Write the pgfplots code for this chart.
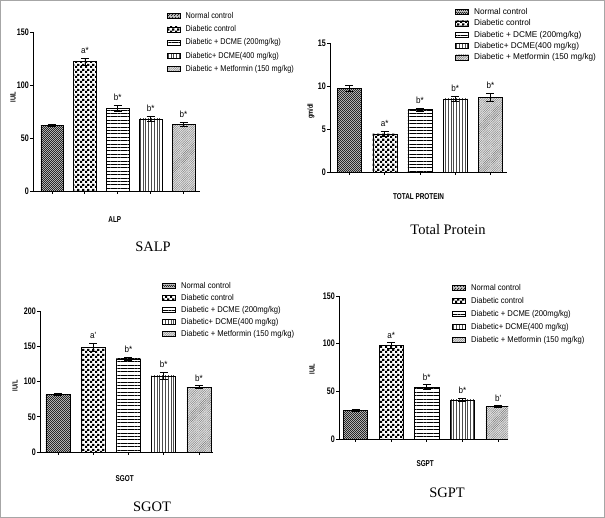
\documentclass[border=0pt]{standalone}
\usepackage{fontspec}
\setmainfont{Liberation Sans}
\newfontfamily\narrow[FakeStretch=0.9]{Liberation Sans}
\newfontfamily\legA[FakeStretch=0.87]{Liberation Sans}
\newfontfamily\legB[FakeStretch=0.98]{Liberation Sans}
\newfontfamily\legC[FakeStretch=0.91]{Liberation Sans}
\newfontfamily\narrowb[FakeStretch=0.75]{Liberation Sans}
\newfontfamily\capfont{Liberation Serif}
\usepackage{pgfplots}
\pgfplotsset{compat=1.18}
\usetikzlibrary{patterns,patterns.meta}

% checker patterns for the two control groups
\pgfdeclarepatternformonly{smallchecks}{\pgfpointorigin}{\pgfqpoint{2.4pt}{2.4pt}}{\pgfqpoint{2.4pt}{2.4pt}}{%
  \pgfpathrectangle{\pgfpointorigin}{\pgfqpoint{1.2pt}{1.2pt}}%
  \pgfpathrectangle{\pgfqpoint{1.2pt}{1.2pt}}{\pgfqpoint{1.2pt}{1.2pt}}%
  \pgfusepath{fill}}
\pgfdeclarepatternformonly{bigchecks}{\pgfpointorigin}{\pgfqpoint{5pt}{5pt}}{\pgfqpoint{5pt}{5pt}}{%
  \pgfpathrectangle{\pgfpointorigin}{\pgfqpoint{2.5pt}{2.5pt}}%
  \pgfpathrectangle{\pgfqpoint{2.5pt}{2.5pt}}{\pgfqpoint{2.5pt}{2.5pt}}%
  \pgfusepath{fill}}

\pgfplotsset{
  g1/.style={ybar, draw=black, fill=gray!45, postaction={pattern=smallchecks, pattern color=black!85}},
  g2/.style={ybar, draw=black, fill=white, postaction={pattern=bigchecks}},
  g3/.style={ybar, draw=black, fill=white, postaction={pattern={Lines[angle=0,distance=3.4pt,line width=0.7pt]}}},
  g4/.style={ybar, draw=black, fill=white, postaction={pattern={Lines[angle=90,distance=2.8pt,line width=0.6pt]}, pattern color=black!70}},
  g5/.style={ybar, draw=black, fill=gray!20, postaction={pattern={Lines[angle=45,distance=1.6pt,line width=0.4pt]}, pattern color=black!55}},
  eb/.style={error bars/.cd, y dir=both, y explicit,
    error bar style={black, line width=0.6pt},
    error mark options={rotate=90, mark size=4pt, black, line width=0.6pt}},
  marks/.style={draw=none, mark=none, forget plot, nodes near coords,
    point meta=explicit symbolic,
    every node near coord/.style={anchor=south, yshift=1pt, font=\narrow\fontsize{9}{10}\selectfont}},
  panel/.style={
    scale only axis, anchor=south west,
    axis lines=left, axis line style={-, line width=0.8pt},
    bar width=0.68,
    xtick={1,2,3,4,5}, xticklabels={},
    tick align=outside, major tick length=3pt, tick style={black, line width=0.7pt},
    ymin=0,
    /pgf/number format/assume math mode=true,
    yticklabel style={font=\narrowb\bfseries\fontsize{9.5}{10}\selectfont, inner sep=1pt},
    ylabel style={font=\narrowb\bfseries\fontsize{7.5}{8}\selectfont, anchor=center},
    xlabel style={font=\narrowb\bfseries\fontsize{8.5}{9}\selectfont, anchor=center},
    legend style={draw=none, fill=none, anchor=north west, inner sep=0pt,
      nodes={inner sep=0.5pt, text height=6.2pt, text depth=1.6pt},
      cells={anchor=west},
      /tikz/every odd column/.append style={column sep=5pt}},
    legend image code/.code={\draw[##1] (0pt,-2.5pt) rectangle (13pt,2.5pt);},
  },
}

\begin{document}
\begin{tikzpicture}
\useasboundingbox (0pt,0pt) rectangle (605pt,518pt);
\draw[gray!70, line width=1.2pt] (0.6pt,0.6pt) rectangle (604.4pt,517.4pt);

% SALP
\begin{axis}[panel, at={(33pt,327pt)}, width=167pt, height=159pt,
  xmin=0.424, xmax=5.5, ymax=150, ytick={0,50,100,150},
  xlabel={ALP}, xlabel style={at={(rel axis cs:0.49,-0.18)}},
  ylabel={IU/L}, ylabel style={at={(rel axis cs:-0.12,0.59)}},
  legend style={at={(0.80,1.13)}, row sep=4.5pt, font=\legA\fontsize{8.4}{9}\selectfont}]
\addplot[g1, eb] coordinates {(1,62) +- (0,1.2)};
\addplot[g2, eb] coordinates {(2,122) +- (0,3)};
\addplot[g3, eb] coordinates {(3,78) +- (0,3)};
\addplot[g4, eb] coordinates {(4,68) +- (0,2.5)};
\addplot[g5, eb] coordinates {(5,63) +- (0,2)};
\addplot[marks] coordinates {(2,125)[a*] (3,81)[b*] (4,70.5)[b*] (5,65)[b*]};
\legend{Normal control, Diabetic control, Diabetic + DCME (200mg/kg), Diabetic+ DCME(400 mg/kg), Diabetic + Metformin (150 mg/kg)}
\end{axis}

% Total protein
\begin{axis}[panel, at={(330pt,346pt)}, width=177pt, height=129pt,
  xmin=0.447, xmax=5.47, ymax=15, ytick={0,5,10,15},
  xlabel={TOTAL PROTEIN}, xlabel style={at={(rel axis cs:0.5,-0.19)}},
  ylabel={gm/dl}, ylabel style={at={(rel axis cs:-0.107,0.47)}},
  legend style={at={(0.706,1.275)}, row sep=2.5pt, font=\legB\fontsize{8.4}{9}\selectfont}]
\addplot[g1, eb] coordinates {(1,9.7) +- (0,0.35)};
\addplot[g2, eb] coordinates {(2,4.45) +- (0,0.27)};
\addplot[g3, eb] coordinates {(3,7.25) +- (0,0.16)};
\addplot[g4, eb] coordinates {(4,8.5) +- (0,0.32)};
\addplot[g5, eb] coordinates {(5,8.65) +- (0,0.47)};
\addplot[marks] coordinates {(2,4.72)[a*] (3,7.41)[b*] (4,8.82)[b*] (5,9.12)[b*]};
\legend{Normal control, Diabetic control, Diabetic + DCME (200mg/kg), Diabetic+ DCME(400 mg/kg), Diabetic + Metformin (150 mg/kg)}
\end{axis}

% SGOT
\begin{axis}[panel, at={(40pt,66pt)}, width=173pt, height=141pt,
  xmin=0.49, xmax=5.4, ymax=200, ytick={0,50,100,150,200},
  xlabel={SGOT}, xlabel style={at={(rel axis cs:0.49,-0.19)}},
  ylabel={IU/L}, ylabel style={at={(rel axis cs:-0.145,0.47)}},
  legend style={at={(0.705,1.21)}, row sep=3.2pt, font=\legC\fontsize{8.4}{9}\selectfont}]
\addplot[g1, eb] coordinates {(1,82) +- (0,1.5)};
\addplot[g2, eb] coordinates {(2,148.5) +- (0,6)};
\addplot[g3, eb] coordinates {(3,132) +- (0,2)};
\addplot[g4, eb] coordinates {(4,108) +- (0,5)};
\addplot[g5, eb] coordinates {(5,92) +- (0,2)};
\addplot[marks] coordinates {(2,154.5)[a'] (3,134)[b*] (4,113)[b*] (5,94)[b*]};
\legend{Normal control, Diabetic control, Diabetic + DCME (200mg/kg), Diabetic+ DCME(400 mg/kg), Diabetic + Metformin (150 mg/kg)}
\end{axis}

% SGPT
\begin{axis}[panel, at={(339pt,79pt)}, width=169pt, height=143pt,
  xmin=0.536, xmax=5.28, ymax=150, ytick={0,50,100,150},
  xlabel={SGPT}, xlabel style={at={(rel axis cs:0.51,-0.175)}},
  ylabel={IU/L}, ylabel style={at={(rel axis cs:-0.16,0.49)}},
  legend style={at={(0.669,1.09)}, row sep=4.2pt, font=\legC\fontsize{8.4}{9}\selectfont}]
\addplot[g1, eb] coordinates {(1,29.8) +- (0,1)};
\addplot[g2, eb] coordinates {(2,98) +- (0,3)};
\addplot[g3, eb] coordinates {(3,54.5) +- (0,2.5)};
\addplot[g4, eb] coordinates {(4,41) +- (0,1.5)};
\addplot[g5, eb] coordinates {(5,34) +- (0,1)};
\addplot[marks] coordinates {(2,101)[a*] (3,57)[b*] (4,42.5)[b*] (5,35)[b']};
\legend{Normal control, Diabetic control, Diabetic + DCME (200mg/kg), Diabetic+ DCME(400 mg/kg), Diabetic + Metformin (150 mg/kg)}
\end{axis}

\node[font=\capfont\fontsize{14.5}{16}\selectfont] at (153pt,271pt) {SALP};
\node[font=\capfont\fontsize{14.5}{16}\selectfont] at (448pt,288pt) {Total Protein};
\node[font=\capfont\fontsize{14.5}{16}\selectfont] at (152pt,11pt) {SGOT};
\node[font=\capfont\fontsize{14.5}{16}\selectfont] at (447pt,25pt) {SGPT};
\end{tikzpicture}
\end{document}
